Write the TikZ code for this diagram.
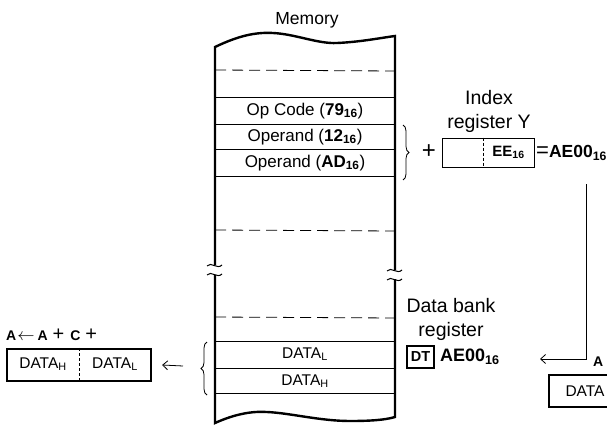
\documentclass[tikz,border=0pt]{standalone}
\usepackage{fontspec}
\setmainfont{Liberation Sans}
\usetikzlibrary{arrows.meta,decorations.pathreplacing}
\newcommand\hexv[1]{\textbf{#1}\textsubscript{\textbf{16}}}

\begin{document}
\begin{tikzpicture}[x=1pt,y=-1pt,
    side/.style={line width=2.4pt},
    row/.style={line width=0.8pt},
    gapline/.style={line width=0.8pt,dash pattern=on 11pt off 6pt},
    memtxt/.style={font=\fontsize{15.5}{17}\selectfont},
    optxt/.style={font=\fontsize{17}{19}\selectfont},
    lbl/.style={font=\fontsize{19.5}{24}\selectfont,align=center},
    regbox/.style={draw,line width=0.8pt,minimum height=29pt,inner sep=0pt},
    accbox/.style={draw,line width=2.2pt,minimum height=32pt,inner sep=0pt},
    curly/.style={decorate,decoration={brace,amplitude=6pt},line width=0.8pt},
    barb/.style={-{Straight Barb[length=5pt,width=9pt]},line width=0.8pt}]
  \useasboundingbox (0,0) rectangle (607,425);
  \clip (0,0) rectangle (607,425);

  % memory column
  \node[font=\fontsize{17.5}{19}\selectfont] (memlbl) at (307,20) {Memory};
  \draw[side] (215,265) -- (215,47) .. controls (238,36) and (255,32) .. (273,33)
    .. controls (295,34) and (318,44) .. (337,43) .. controls (360,42) and (380,38) .. (395,36)
    -- (395,270);
  \draw[side] (215,275) -- (215,423) .. controls (235,414) and (252,411) .. (267,412)
    .. controls (290,413) and (320,421) .. (350,421) .. controls (370,421) and (385,420) .. (395,417)
    -- (395,279);
  \foreach \x/\y in {215/265,215/274,395/270,395/279}
    \draw[line width=1pt] (\x-8,\y+1) .. controls (\x-4,\y-4) and (\x+2,\y+5) .. (\x+7,\y);
  \foreach \y in {97,124,149,176,341,368,393}
    \draw[row] (215,\y) -- (395,\y);
  \foreach \y in {70,230,317}
    \draw[gapline] (215,\y) -- (395,\y+1);

  \node[optxt] (opcode) at (305,111) {Op Code (\hexv{79})};
  \node[optxt] (opnda) at (305,137) {Operand (\hexv{12})};
  \node[optxt] (opndb) at (305,163) {Operand (\hexv{AD})};
  \node[memtxt] (datlo) at (305,354) {DATA\textsubscript{L}};
  \node[memtxt] (dathi) at (305,381) {DATA\textsubscript{H}};

  \draw[curly] (403,125) -- (403,180);
  \draw[curly] (207,395) -- (207,342);

  % index register Y
  \node[lbl] (idxlbl) at (489,111) {Index\\register Y};
  \node[font=\fontsize{24}{24}\selectfont] (plus) at (429,152) {+};
  \node[regbox,minimum width=92pt] (ybox) at (488,152.5) {};
  \draw[line width=0.8pt,dash pattern=on 3pt off 2pt] ([xshift=-5pt]ybox.north) -- ([xshift=-5pt]ybox.south);
  \node[font=\fontsize{15}{17}\selectfont] (ylow) at (508.5,152.5) {\hexv{EE}};
  \node[anchor=west,font=\fontsize{17.5}{19}\selectfont,inner sep=1pt] (ysum) at (535,153)
    {{\fontsize{22}{22}\selectfont=}\hexv{AE00}};

  % data bank register
  \node[lbl] (dblbl) at (451,319) {Data bank\\register};
  \node[regbox,line width=1.2pt,minimum width=27pt,minimum height=22pt,
    font=\fontsize{14.5}{16}\selectfont\bfseries] (dt) at (420.5,357) {DT};
  \node[anchor=west,font=\fontsize{18}{20}\selectfont,inner sep=1pt] (dtaddr) at (439,357) {\hexv{AE00}};

  \coordinate (drop) at (586,184);
  \coordinate (turn) at (586,359);
  \coordinate (hit) at (540,359);
  \draw[barb] (drop) -- (turn) -- (hit);

  % accumulator
  \node[anchor=west,font=\fontsize{14}{16}\selectfont\bfseries,inner sep=1pt] (opright) at (592,362) {A};
  \node[accbox,minimum width=90pt,anchor=west] (accr) at (548,391) {};
  \node[memtxt,anchor=west] (accrtxt) at (562,391) {DATA};

  \node[anchor=west,font=\fontsize{14}{16}\selectfont,inner sep=1pt] (opleft) at (5,335)
    {\textbf{A}\hspace{1pt}{\fontsize{19}{19}\selectfont$\leftarrow$}\hspace{3pt}\textbf{A}\hspace{5pt}%
     {\fontsize{20}{20}\selectfont+}\hspace{6pt}\textbf{C}\hspace{5pt}{\fontsize{20}{20}\selectfont+}};
  \node[accbox,minimum width=144pt] (acc) at (79,365) {};
  \draw[line width=0.8pt,dash pattern=on 3pt off 2pt] (acc.north) -- (acc.south);
  \node[memtxt] (acchi) at (43,364) {DATA\textsubscript{H}};
  \node[memtxt] (acclo) at (115,364) {DATA\textsubscript{L}};
  \coordinate (src) at (183,366);
  \draw[barb] (src) -- ([xshift=10pt]acc.east);
\end{tikzpicture}
\end{document}
